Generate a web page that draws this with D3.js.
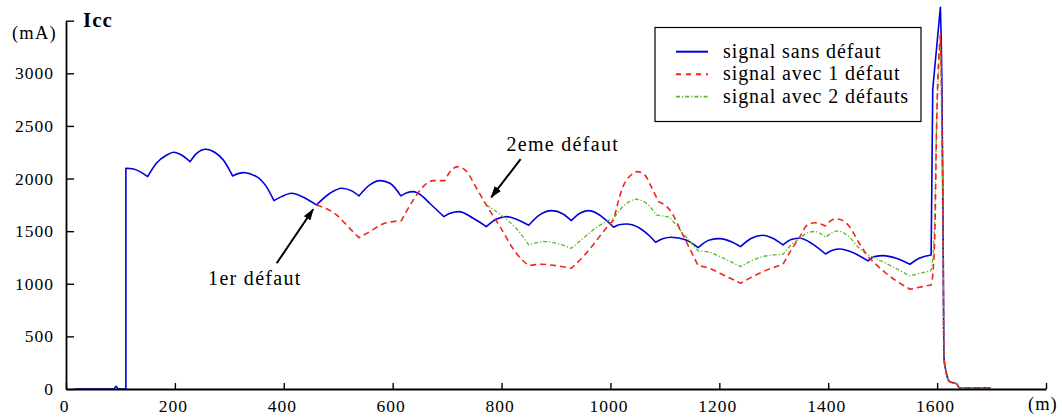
<!DOCTYPE html>
<html><head><meta charset="utf-8">
<script src="https://cdn.jsdelivr.net/npm/d3@7"></script>
<style>
html,body{margin:0;padding:0;background:#fff;}
text{font-family:"Liberation Serif","Times New Roman",serif;fill:#000;}
</style></head>
<body><svg id="chart" width="1062" height="418"></svg>
<script>
// ---- data (distance m, current mA); each series is a list of arcs joined at corners ----
const xTicks = [0,200,400,600,800,1000,1200,1400,1600,1800];
const yTicks = [0,500,1000,1500,2000,2500,3000,3500];
const seriesNames = ["signal sans défaut","signal avec 1 défaut","signal avec 2 défauts"];

const blueArcs = [
  [[16,0],[88,0],[92,25],[96,0],[110,0]],
  [[110,0],[110,2098]],
  [[110,2098],[124,2091],[136,2066],[150,2018]],
  [[150,2018],[166,2145],[185,2224],[198,2250],[212,2224],[228,2161]],
  [[228,2161],[240,2240],[257,2279],[273,2250],[289,2177],[306,2025]],
  [[306,2025],[326,2056],[350,2018],[368,1923],[382,1790]],
  [[382,1790],[396,1828],[414,1860],[436,1822],[460,1749]],
  [[460,1749],[485,1860],[506,1908],[524,1885],[538,1835]],
  [[538,1835],[558,1939],[577,1980],[595,1955],[615,1835]],
  [[615,1835],[626,1866],[638,1876],[652,1843],[668,1765],[694,1638]],
  [[694,1638],[707,1672],[722,1686],[748,1622],[772,1543]],
  [[772,1543],[790,1613],[809,1638],[830,1607],[850,1556]],
  [[850,1556],[870,1654],[892,1695],[913,1663],[928,1600]],
  [[928,1600],[944,1670],[959,1695],[980,1654],[995,1590],[1006,1537]],
  [[1006,1537],[1016,1560],[1029,1568],[1054,1528],[1072,1454],[1083,1394]],
  [[1083,1394],[1096,1428],[1112,1442],[1139,1416],[1161,1343]],
  [[1161,1343],[1182,1416],[1201,1429],[1222,1400],[1239,1353]],
  [[1239,1353],[1259,1432],[1280,1461],[1298,1432],[1317,1369]],
  [[1317,1369],[1332,1420],[1348,1432],[1372,1375],[1395,1283]],
  [[1395,1283],[1408,1318],[1421,1331],[1448,1290],[1473,1217]],
  [[1473,1217],[1485,1258],[1501,1267],[1525,1242],[1550,1185]],
  [[1550,1185],[1567,1242],[1589,1274]],
  [[1589,1274],[1592,2850]],
  [[1592,2850],[1606,3628]],
  [[1606,3628],[1609,2800],[1611,1500],[1612.5,300],[1617,150],[1623,70],[1636,48],[1641,12],[1698,12]]
];

const redArcs = [
  [[460,1749],[497,1654],[521,1527],[538,1438]],
  [[538,1438],[558,1495],[582,1568],[616,1600]],
  [[616,1600],[638,1797],[656,1923],[674,1980],[696,1980]],
  [[696,1980],[708,2082],[720,2113],[736,2066],[754,1908],[772,1749],[797,1543],[827,1290],[850,1172]],
  [[850,1172],[873,1185],[889,1179],[928,1147]],
  [[928,1147],[950,1258],[968,1369],[992,1528],[1006,1607]],
  [[1006,1607],[1023,1923],[1038,2034],[1049,2066],[1063,2034],[1075,1923],[1088,1781]],
  [[1088,1781],[1109,1702],[1133,1464],[1161,1172]],
  [[1161,1172],[1182,1147],[1201,1100],[1239,1005]],
  [[1239,1005],[1280,1115],[1317,1185]],
  [[1317,1185],[1332,1321],[1348,1448],[1360,1550],[1375,1580],[1395,1550]],
  [[1395,1550],[1405,1600],[1415,1616],[1427,1600],[1439,1543],[1457,1385],[1473,1258]],
  [[1473,1258],[1506,1100],[1550,948]],
  [[1550,948],[1589,989]],
  [[1589,989],[1592,1084],[1596,1511],[1599,2493],[1606,3365]],
  [[1606,3365],[1609,2493],[1611,1500],[1612.5,300],[1617,150],[1623,70],[1636,48],[1641,12],[1698,12]]
];

const greenArcs = [
  [[772,1749],[803,1638],[827,1525],[850,1369]],
  [[850,1369],[880,1400],[928,1337]],
  [[928,1337],[950,1432],[968,1511],[992,1590],[1006,1622]],
  [[1006,1622],[1023,1733],[1047,1803],[1066,1765],[1084,1654]],
  [[1084,1654],[1109,1632]],
  [[1109,1632],[1133,1480],[1161,1312]],
  [[1161,1312],[1182,1300],[1201,1258],[1239,1163]],
  [[1239,1163],[1280,1258],[1317,1280]],
  [[1317,1280],[1332,1369],[1348,1432],[1360,1480],[1375,1497],[1395,1442]],
  [[1395,1442],[1418,1502],[1439,1442],[1457,1337],[1473,1274]],
  [[1473,1274],[1506,1195],[1550,1074]],
  [[1550,1074],[1589,1125]],
  [[1589,1125],[1595,1511],[1599,2493],[1606,3318]],
  [[1606,3318],[1609,2493],[1611,1500],[1612.5,300],[1617,150],[1623,70],[1636,48],[1641,12],[1698,12]]
];

// annotations: label, text anchor point, arrow tail, arrow tip (data coords)
const annotations = [
  {label:"1er défaut", tx:261, ty:988, ax:387, ay:1195, bx:454, by:1708},
  {label:"2eme défaut", tx:809, ty:2262, ax:835, ay:2184, bx:781, by:1822}
];

// ---- drawing ----
const FONT = "Liberation Serif";
const svg = d3.select("#chart");
const x = d3.scaleLinear().domain([0,1800]).range([66,1046]);
const y = d3.scaleLinear().domain([0,3500]).range([389,20.7]);

const smooth = d3.line().x(d=>x(d[0])).y(d=>y(d[1])).curve(d3.curveMonotoneX);
const straight = d3.line().x(d=>x(d[0])).y(d=>y(d[1]));
function arcsPath(arcs){
  return arcs.map((a,i)=>{
    const s = (a.length>=3 ? smooth : straight)(a);
    return i===0 ? s : "L"+s.slice(1);
  }).join("");
}

const styles = [
  {arcs:blueArcs, color:"#0000dd", width:1.6, dash:null, legendDash:null},
  {arcs:greenArcs, color:"#5cb82a", width:1.3, dash:"4,2,1.2,2", legendDash:"4,2,1.2,2"},
  {arcs:redArcs, color:"#f0261a", width:1.6, dash:"6,4", legendDash:"5,5"}
];
const legendStyles = [styles[0], styles[2], styles[1]];

styles.forEach(s=>{
  svg.append("path").attr("d", arcsPath(s.arcs))
    .attr("fill","none").attr("stroke",s.color).attr("stroke-width",s.width)
    .attr("stroke-linejoin","round")
    .attr("stroke-dasharray", s.dash);
});

// axes
const xAxis = d3.axisBottom(x).tickValues(xTicks).tickSizeInner(-6).tickSizeOuter(0)
  .tickPadding(11).tickFormat(d=> d===1800 ? "" : d);
const gx = svg.append("g").attr("transform","translate(0,389)").call(xAxis);
const yAxis = d3.axisLeft(y).tickValues(yTicks).tickSizeInner(-8).tickSizeOuter(0)
  .tickPadding(12).tickFormat(d=> d===3500 ? "" : d);
const gy = svg.append("g").attr("transform","translate(66,0)").call(yAxis);
[gx,gy].forEach(g=>{
  g.selectAll("path.domain").attr("stroke","#000").attr("stroke-width",1.8);
  g.selectAll(".tick line").attr("stroke","#000").attr("stroke-width",1.4);
  g.selectAll(".tick text").style("font-family",FONT).style("font-size","17.5px")
    .style("letter-spacing","1px").attr("fill","#000");
});
gx.selectAll(".tick text").attr("dx","-2");

// axis titles
svg.append("text").attr("x",83).attr("y",27).style("font-size","21px").style("font-weight","bold")
  .style("letter-spacing","1px").text("Icc");
svg.append("text").attr("x",12).attr("y",39).style("font-size","18.5px").style("letter-spacing","1.2px").text("(mA)");
svg.append("text").attr("x",1028).attr("y",410).style("font-size","18.5px").style("letter-spacing","1px").text("(m)");

// legend
const lg = svg.append("g");
lg.append("rect").attr("x",655).attr("y",27.5).attr("width",266).attr("height",94)
  .attr("fill","#fff").attr("stroke","#000").attr("stroke-width",1.2);
legendStyles.forEach((s,i)=>{
  const yy = 51.7 + i*22.5;
  lg.append("line").attr("x1",676).attr("x2",708).attr("y1",yy).attr("y2",yy)
    .attr("stroke",s.color).attr("stroke-width",s.width+0.4).attr("stroke-dasharray", s.legendDash);
  lg.append("text").attr("x",723).attr("y",yy+6).style("font-size","20px")
    .style("letter-spacing","0.9px").text(seriesNames[i]);
});

// annotations
svg.append("defs").append("marker").attr("id","arr").attr("viewBox","0 0 12 8")
  .attr("refX",11).attr("refY",4).attr("markerWidth",12).attr("markerHeight",8)
  .attr("markerUnits","userSpaceOnUse").attr("orient","auto")
  .append("path").attr("d","M0,0 L12,4 L0,8 Z").attr("fill","#000");
annotations.forEach(a=>{
  svg.append("line").attr("x1",x(a.ax)).attr("y1",y(a.ay)).attr("x2",x(a.bx)).attr("y2",y(a.by))
    .attr("stroke","#000").attr("stroke-width",2).attr("marker-end","url(#arr)");
  svg.append("text").attr("x",x(a.tx)).attr("y",y(a.ty)).style("font-size","20px")
    .style("letter-spacing","1.3px").text(a.label);
});
</script></body></html>
